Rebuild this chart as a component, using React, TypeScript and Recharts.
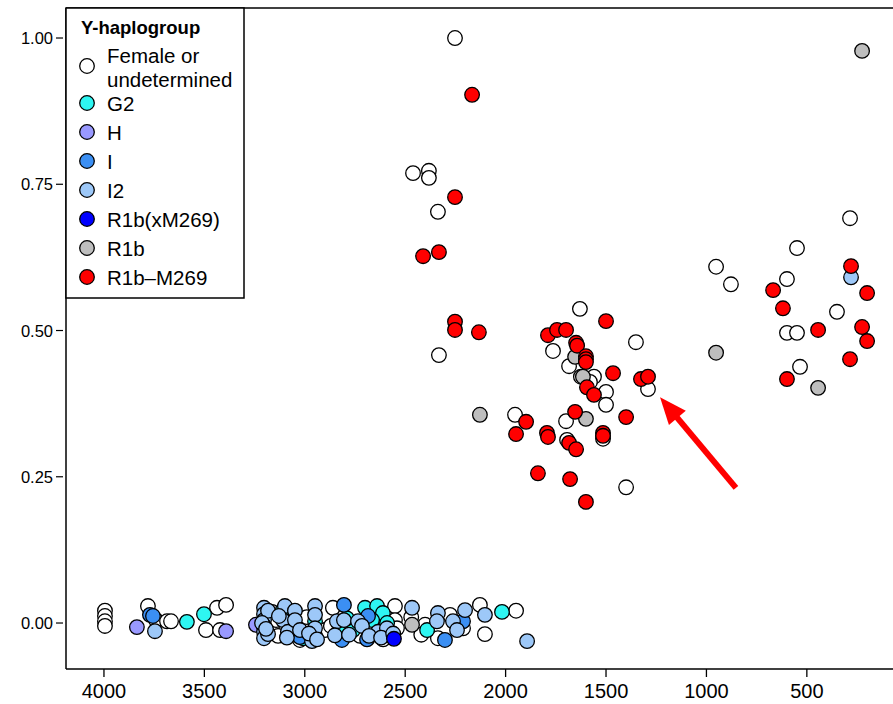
import React from "react";
import {
  ScatterChart,
  Scatter,
  XAxis,
  YAxis,
  ReferenceLine,
} from "recharts";

// [years BP, ancestry proportion]
const femaleOrUndetermined: [number, number][] = [
  [2252, 1.0], [2461, 0.769], [2382, 0.773], [2382, 0.761], [2337, 0.703], [2332, 0.458],
  [1630, 0.537], [1351, 0.48], [1764, 0.465], [1684, 0.439], [1625, 0.421], [1560, 0.421],
  [1580, 0.412], [1500, 0.395], [1500, 0.373], [1291, 0.4], [1953, 0.356], [1699, 0.345],
  [1694, 0.313], [1515, 0.315], [1400, 0.232],
  [285, 0.692], [549, 0.641], [952, 0.609], [878, 0.579], [599, 0.588], [350, 0.532],
  [599, 0.496], [549, 0.496], [534, 0.438],
  [3995, 0.021], [3995, 0.012], [3995, 0.003], [3995, -0.005], [3781, 0.029], [3741, 0.005],
  [3686, 0.003], [3666, 0.003], [3437, 0.026], [3392, 0.031], [3492, -0.012], [3422, -0.012],
  [3163, 0.019], [3163, -0.009], [3133, -0.022], [3074, -0.009], [2860, 0.026], [2900, -0.012],
  [2551, 0.029], [2551, 0.005], [2541, -0.009], [2601, -0.012], [2650, -0.003], [2401, -0.003],
  [2277, 0.014], [2337, -0.026], [2212, -0.009], [2128, 0.031], [2103, -0.019], [1948, 0.021],
  [2725, -0.022], [3024, -0.029], [3143, 0.005], [2990, 0.01], [2870, -0.005], [2620, 0.012],
  [2470, 0.01], [2420, -0.02], [2640, -0.02], [2610, -0.028],
];
const g2: [number, number][] = [
  [3587, 0.002], [3502, 0.015], [3109, 0.022], [3054, -0.005], [3009, -0.026], [2949, 0.003],
  [2760, -0.012], [2700, 0.026], [2640, 0.029], [2611, 0.017], [2665, 0.005], [2391, -0.012],
  [2018, 0.019], [2830, -0.015], [2790, 0.008], [2590, 0.0],
];
const h: [number, number][] = [[3836, -0.007], [3392, -0.014], [3243, -0.003]];
const hapI: [number, number][] = [
  [3771, 0.014], [3756, 0.012], [2949, -0.022], [2805, 0.031], [2815, -0.029], [2685, 0.012],
  [2302, -0.029], [2212, 0.003], [3024, -0.024], [2690, -0.028],
];
const i2: [number, number][] = [
  [3746, -0.014], [3203, 0.026], [3203, 0.015], [3203, 0.005], [3203, -0.005], [3203, -0.015],
  [3203, -0.026], [3183, 0.021], [3183, -0.019], [3099, 0.029], [3109, 0.005], [3084, -0.015],
  [3049, 0.021], [3049, 0.005], [3024, -0.012], [2949, 0.029], [2949, 0.014], [2949, -0.009],
  [2964, -0.031], [2840, 0.003], [2805, 0.005], [2850, -0.021], [2735, 0.003], [2635, -0.015],
  [2591, -0.009], [2466, 0.026], [2337, 0.017], [2342, 0.003], [2262, 0.003], [2242, -0.012],
  [2202, 0.022], [2103, 0.014], [1893, -0.031], [2715, -0.005], [2680, -0.022], [3213, 0.0],
  [3193, -0.01], [3129, 0.012], [3089, -0.025], [2979, -0.018], [2939, -0.028], [2780, -0.02],
  [2620, -0.025], [2560, -0.018], [280, 0.591],
];
const r1bXM269: [number, number][] = [[2556, -0.027]];
const r1b: [number, number][] = [
  [2466, -0.003], [2128, 0.356], [1654, 0.455], [1615, 0.421], [1600, 0.349], [225, 0.978],
  [952, 0.462], [444, 0.402],
];
const r1bM269: [number, number][] = [
  [2167, 0.903], [2252, 0.728], [2411, 0.627], [2332, 0.634], [2252, 0.515], [2252, 0.501],
  [2133, 0.497],
  [1500, 0.516], [1789, 0.492], [1744, 0.501], [1699, 0.501], [1649, 0.479], [1644, 0.474],
  [1600, 0.456], [1600, 0.451], [1600, 0.446], [1465, 0.427], [1595, 0.403], [1560, 0.39],
  [1326, 0.417], [1291, 0.421], [1654, 0.361], [1400, 0.352], [1898, 0.344], [1948, 0.323],
  [1794, 0.325], [1789, 0.318], [1684, 0.308], [1649, 0.297], [1515, 0.325], [1515, 0.32],
  [1839, 0.256], [1679, 0.246], [1600, 0.207],
  [280, 0.61], [668, 0.569], [200, 0.564], [619, 0.538], [444, 0.501], [225, 0.506],
  [200, 0.482], [285, 0.451], [599, 0.417],
];

const legendLabels = ["Female or undetermined", "G2", "H", "I", "I2", "R1b(xM269)", "R1b", "R1b\u2013M269"];
const groupColors = ["#FFFFFF", "#2EF6F2", "#9999FF", "#3B8FF3", "#9DC8F8", "#0000FF", "#BEBEBE", "#FF0000"];
const groupData = [femaleOrUndetermined, g2, h, hapI, i2, r1bXM269, r1b, r1bM269];

const xTicks = [4000, 3500, 3000, 2500, 2000, 1500, 1000, 500];
const yTicks = [0, 0.25, 0.5, 0.75, 1.0];
const arrowFrom = { x: 853, y: 0.231 };
const arrowTo = { x: 1231, y: 0.386 };

const FONT = '"Liberation Sans", Arial, Helvetica, sans-serif';

const dot = (color: string) => (p: any) => (
  <circle cx={p.cx} cy={p.cy} r={7.3} fill={color} stroke="#000" strokeWidth={1.3} />
);

const YTick = (p: any) => {
  const { x, y, payload } = p;
  return (
    <g>
      <line x1={x - 10} x2={x - 3} y1={y} y2={y} stroke="#000" strokeWidth={1.2} />
      <text x={x - 13} y={y} textAnchor="end" dominantBaseline="central" fontSize={16.5} fontFamily={FONT} fill="#000">
        {payload.value.toFixed(2)}
      </text>
    </g>
  );
};

const Arrow = (p: any) => {
  const { x1, y1, x2, y2 } = p;
  const dx = x2 - x1;
  const dy = y2 - y1;
  const len = Math.sqrt(dx * dx + dy * dy);
  const ux = dx / len;
  const uy = dy / len;
  const headLen = 27;
  const headW = 11;
  const bx = x2 - ux * headLen;
  const by = y2 - uy * headLen;
  return (
    <g>
      <line x1={x1} y1={y1} x2={bx + ux * 2} y2={by + uy * 2} stroke="#FF0000" strokeWidth={6} />
      <polygon
        points={`${x2},${y2} ${bx - uy * headW},${by + ux * headW} ${bx + uy * headW},${by - ux * headW}`}
        fill="#FF0000"
      />
    </g>
  );
};

const Legend = () => {
  const rows = [96, 125, 154, 183, 212, 241, 270];
  return (
    <svg width={180} height={292} style={{ position: "absolute", left: 65, top: 7 }}>
      <rect x={1} y={1} width={178} height={290} fill="#fff" stroke="#000" strokeWidth={1.5} />
      <text x={16} y={20} dominantBaseline="central" fontSize={18.5} fontWeight="bold" fontFamily={FONT}>
        Y-haplogroup
      </text>
      <circle cx={22} cy={59} r={7.3} fill={groupColors[0]} stroke="#000" strokeWidth={1.3} />
      <text x={42} y={48} dominantBaseline="central" fontSize={20.5} fontFamily={FONT}>Female or</text>
      <text x={42} y={72} dominantBaseline="central" fontSize={20.5} fontFamily={FONT}>undetermined</text>
      {legendLabels.slice(1).map((label, i) => (
        <g key={label}>
          <circle cx={22} cy={rows[i]} r={7.3} fill={groupColors[i + 1]} stroke="#000" strokeWidth={1.3} />
          <text x={42} y={rows[i]} dominantBaseline="central" fontSize={20.5} fontFamily={FONT}>{label}</text>
        </g>
      ))}
    </svg>
  );
};

export default function App() {
  const series = groupData.map((d) => d.map(([x, y]) => ({ x, y })));
  return (
    <div style={{ position: "relative", width: 893, height: 704 }}>
      <style>{`body{margin:0}`}</style>
      <ScatterChart width={893} height={704} margin={{ top: 8, right: 0, bottom: 0, left: 0 }}>
        <XAxis
          type="number"
          dataKey="x"
          domain={[71, 4189]}
          reversed
          allowDataOverflow
          ticks={xTicks}
          height={35}
          tickSize={8}
          tickMargin={7}
          axisLine={{ stroke: "#000", strokeWidth: 1.5 }}
          tickLine={{ stroke: "#000", strokeWidth: 1.3 }}
          tick={{ fill: "#000", fontSize: 20, fontFamily: FONT }}
        />
        <YAxis
          type="number"
          dataKey="y"
          domain={[-0.0786, 1.0513]}
          allowDataOverflow
          ticks={yTicks}
          width={66}
          tickSize={0}
          tickMargin={0}
          tickLine={false}
          axisLine={{ stroke: "#000", strokeWidth: 1.5 }}
          tick={<YTick />}
        />
        <ReferenceLine y={1.0513} stroke="#000" strokeWidth={1.5} />
        {series.map((d, i) => (
          <Scatter
            key={legendLabels[i]}
            name={legendLabels[i]}
            data={d}
            isAnimationActive={false}
            shape={dot(groupColors[i])}
          />
        ))}
        <ReferenceLine segment={[arrowFrom, arrowTo]} shape={<Arrow />} />
      </ScatterChart>
      <Legend />
    </div>
  );
}
